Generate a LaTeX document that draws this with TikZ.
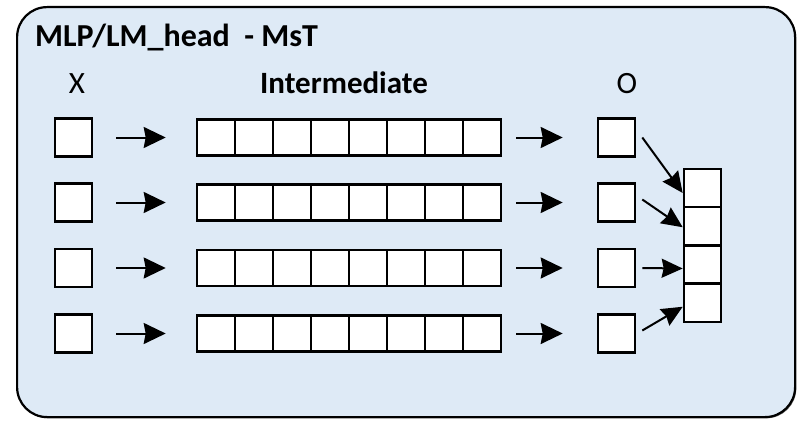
\documentclass[tikz,border=0pt]{standalone}
\usepackage{fontspec}
\setmainfont{Carlito}
\usetikzlibrary{arrows.meta,shadows}

\definecolor{panelfill}{HTML}{DEEAF6}

\tikzset{
  panelbox/.style={draw=black, line width=2.2pt, fill=panelfill, rounded corners=30pt,
    inner sep=0pt, anchor=north west,
    drop shadow={shadow xshift=1.2pt, shadow yshift=-1.2pt, fill=black, opacity=0.6}},
  cell/.style={draw=black, line width=2.6pt, fill=white, inner sep=0pt},
  sq/.style={cell, minimum width=37pt, minimum height=38pt},
  midcell/.style={cell, minimum width=38pt, minimum height=36pt},
  colcell/.style={cell, minimum width=37pt, minimum height=38.25pt},
  lbl/.style={font=\fontsize{31}{37}\selectfont, inner sep=0pt, anchor=base},
  flow/.style={line width=2pt, -{Stealth[length=22pt,width=21pt,inset=2pt]}},
  merge/.style={line width=2pt, -{Stealth[length=21pt,width=19pt,inset=2pt]}}
}

\begin{document}
\begin{tikzpicture}[x=1pt, y=-1pt]
  \useasboundingbox (0,0) rectangle (797,420);

  % outer panel
  \node[panelbox, minimum width=778pt, minimum height=410pt] (panel) at (16,6) {};

  % headings
  \node[lbl, anchor=base west, font=\fontsize{32}{38}\selectfont\bfseries] (title) at (35,47) {MLP/LM\_head\ \ - MsT};
  \node[lbl] (hx) at (77,93) {X};
  \node[lbl, font=\fontsize{31}{37}\selectfont\bfseries] (hmid) at (344,93) {Intermediate};
  \node[lbl] (ho) at (627,93) {O};

  % four rows: input, intermediate vector, output
  \foreach \r/\y in {1/137.5, 2/202.5, 3/268, 4/333.5} {
    \node[sq] (x\r) at (73.5,\y) {};
    \foreach \c in {1,...,8} {
      \node[midcell] (m\r-\c) at ({216+38*(\c-1)},\y) {};
    }
    \node[sq] (o\r) at (616.5,\y) {};
    \draw[flow, shorten <=23pt, shorten >=30pt] (x\r.east) -- (m\r-1.west);
    \draw[flow, shorten <=14pt, shorten >=34pt] (m\r-8.east) -- (o\r.west);
  }

  % stacked result column
  \foreach \k/\y in {1/188, 2/226.25, 3/264.5, 4/302.75} {
    \node[colcell] (y\k) at (702.5,\y) {};
  }

  % gather arrows into the column
  \draw[merge] ([xshift=6pt]o1.east) -- ([yshift=-5pt]y1.west);
  \draw[merge] ([xshift=6pt,yshift=3pt]o2.east) -- ([yshift=-1pt]y2.west);
  \draw[merge] ([xshift=6pt]o3.east) -- ([yshift=-4pt]y3.west);
  \draw[merge] ([xshift=6pt,yshift=3pt]o4.east) -- ([yshift=-4pt]y4.west);
\end{tikzpicture}
\end{document}
